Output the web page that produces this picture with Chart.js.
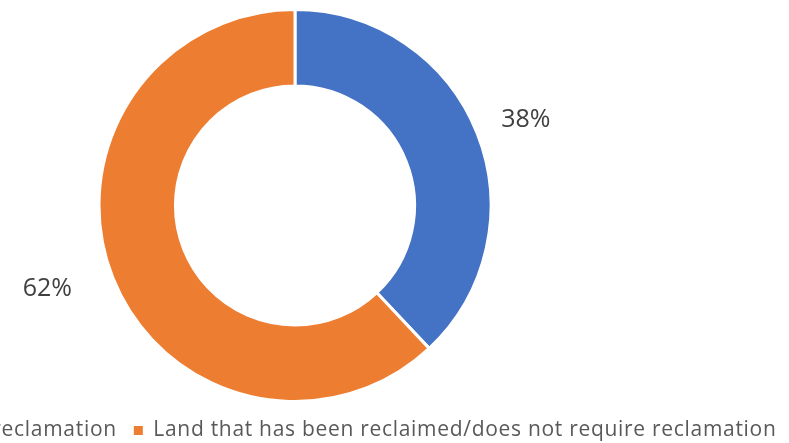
<!DOCTYPE html>
<html>
<head>
<meta charset="utf-8">
<script src="https://cdn.jsdelivr.net/npm/chart.js@4/dist/chart.umd.min.js"></script>
<style>
  html, body { margin: 0; padding: 0; background: #fff; overflow: hidden; }
  body { width: 789px; height: 443px; position: relative; }
  #wrap { position: absolute; left: -255px; top: 0; width: 1100px; height: 451px; }
</style>
</head>
<body>
<div id="wrap"><canvas id="chart"></canvas></div>
<script>
"use strict";

// ── Data ────────────────────────────────────────────────────────────────────
const LABELS = [
  "Land requiring reclamation",
  "Land that has been reclaimed/does not require reclamation",
];
const VALUES = [38, 62];
const COLORS = ["#4472C4", "#ED7D31"];

const FONT = "'Open Sans', 'Noto Sans', sans-serif";

// per-slice label placement: extra distance past the ring, then a small nudge
const LABEL_PLACE = [
  { dist: 49, dx: 3, dy: 5 },
  { dist: 64, dx: -6, dy: -12 },
];

// ── Slightly wider legend lettering (reference font runs wide) ──────────────
const spacing = {
  id: "spacing",
  beforeUpdate(chart) { chart.ctx.letterSpacing = "0.7px"; },
  beforeDraw(chart) { chart.ctx.letterSpacing = "0.7px"; },
};

// ── Outside percentage labels ───────────────────────────────────────────────
const outsideLabels = {
  id: "outsideLabels",
  afterDatasetsDraw(chart) {
    const ctx = chart.ctx;
    const meta = chart.getDatasetMeta(0);
    const total = VALUES.reduce((a, b) => a + b, 0);
    ctx.save();
    ctx.letterSpacing = "0px";
    ctx.font = "25px " + FONT;
    ctx.fillStyle = "#404040";
    ctx.textAlign = "center";
    ctx.textBaseline = "middle";
    meta.data.forEach((arc, i) => {
      const p = arc.getProps(["x", "y", "startAngle", "endAngle", "outerRadius"], true);
      const mid = (p.startAngle + p.endAngle) / 2;
      const lp = LABEL_PLACE[i];
      const r = p.outerRadius + lp.dist;
      const pct = Math.round(VALUES[i] / total * 100) + "%";
      ctx.fillText(pct, p.x + Math.cos(mid) * r + lp.dx, p.y + Math.sin(mid) * r + lp.dy);
    });
    ctx.restore();
  },
};

new Chart(document.getElementById("chart"), {
  type: "doughnut",
  data: {
    labels: LABELS,
    datasets: [{
      data: VALUES,
      backgroundColor: COLORS,
      borderColor: "#fff",
      borderWidth: 3,
    }],
  },
  options: {
    responsive: true,
    maintainAspectRatio: false,
    animation: false,
    cutout: "61%",
    layout: { padding: { top: 8, bottom: 0, left: 0, right: 0 } },
    plugins: {
      tooltip: { enabled: false },
      legend: {
        position: "bottom",
        labels: {
          font: { family: FONT, size: 21 },
          color: "#595959",
          boxWidth: 9,
          boxHeight: 9,
          padding: 17,
          generateLabels(chart) {
            const items = Chart.overrides.doughnut.plugins.legend.labels.generateLabels(chart);
            return items.map(it => Object.assign(it, { lineWidth: 0 }));
          },
        },
      },
    },
  },
  plugins: [spacing, outsideLabels],
});
</script>
</body>
</html>
